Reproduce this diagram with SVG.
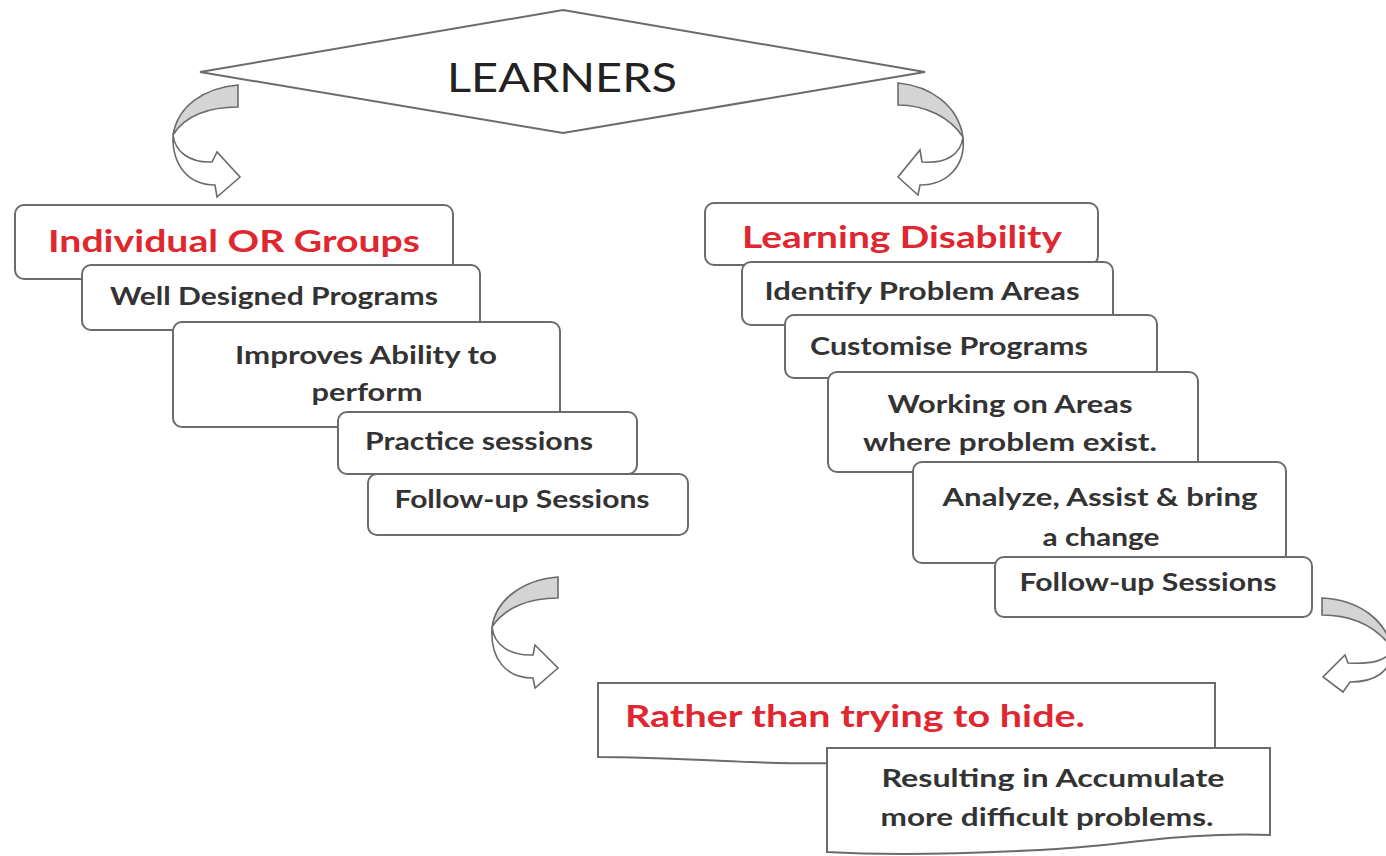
<svg xmlns="http://www.w3.org/2000/svg" width="1386" height="856" viewBox="0 0 1386 856">
<style>
.box{fill:#fff;stroke:#6b6b6b;stroke-width:2}
.band{fill:#d4d4d4;stroke:#6b6b6b;stroke-width:1.6}
.shaft{fill:#fff;stroke:#6b6b6b;stroke-width:1.6}
.t{font-family:Lato,"Open Sans","Liberation Sans",sans-serif;font-weight:bold;fill:#333;font-size:24px;text-anchor:middle}
.r{font-family:Lato,"Open Sans","Liberation Sans",sans-serif;font-weight:bold;fill:#e0262e;font-size:30px;text-anchor:middle}
</style>
<rect width="1386" height="856" fill="#fff"/>
<g id="learners">
<polygon class="box" points="563,10 925,72 563,133 200,72"/>
<text x="562" y="92" style="font-family:Lato,'Liberation Sans',sans-serif;font-size:40px;fill:#222;text-anchor:middle" textLength="230" lengthAdjust="spacingAndGlyphs">LEARNERS</text>
</g>
<g id="connectors">
<path class="band" d="M238,85 C205,88 178,105 173,135 C185,115 210,107 238,107 Z"/>
<path class="shaft" d="M173,135 C175,152 190,163 212,162 L217,152 L240,177 L217,197 L215,185 C188,185 172,165 173,135 Z"/>
<path class="band" d="M898,83 C930,86 958,105 963,137 C950,117 925,105 898,105 Z"/>
<path class="shaft" d="M963,137 C961,155 945,164 922,162 L920,150 L898,177 L918,195 L920,185 C948,185 966,165 963,137 Z"/>
<path class="band" d="M558,577 C522,580 496,600 492,627 C505,607 530,598 558,598 Z"/>
<path class="shaft" d="M492,627 C494,645 510,656 533,655 L535,645 L558,668 L535,688 L533,678 C505,678 490,658 492,627 Z"/>
<path class="band" d="M1322,598 C1360,600 1385,620 1392,648 C1375,625 1350,615 1322,615 Z"/>
<path class="shaft" d="M1392,648 C1388,662 1370,664 1348,663 L1345,655 L1323,677 L1343,692 L1350,682 C1375,682 1392,672 1392,648 Z"/>
</g>
<g id="individual">
<rect class="box" x="15" y="205" width="438" height="74" rx="9"/>
<text class="r" x="234" y="252" textLength="372" lengthAdjust="spacingAndGlyphs">Individual OR Groups</text>
</g>
<g id="well-designed">
<rect class="box" x="82" y="265" width="398" height="65" rx="9"/>
<text class="t" x="274" y="305" textLength="328" lengthAdjust="spacingAndGlyphs">Well Designed  Programs</text>
</g>
<g id="improves">
<rect class="box" x="173" y="322" width="387" height="105" rx="9"/>
<text class="t" x="366" y="364" textLength="262" lengthAdjust="spacingAndGlyphs">Improves Ability to</text>
<text class="t" x="367" y="401" textLength="111" lengthAdjust="spacingAndGlyphs">perform</text>
</g>
<g id="practice">
<rect class="box" x="338" y="412" width="299" height="62" rx="9"/>
<text class="t" x="479" y="450" textLength="228" lengthAdjust="spacingAndGlyphs">Practice sessions</text>
</g>
<g id="followup-left">
<rect class="box" x="368" y="474" width="320" height="61" rx="9"/>
<text class="t" x="522" y="508" textLength="255" lengthAdjust="spacingAndGlyphs">Follow-up Sessions</text>
</g>
<g id="disability">
<rect class="box" x="705" y="203" width="393" height="62" rx="9"/>
<text class="r" x="902" y="248" textLength="320" lengthAdjust="spacingAndGlyphs">Learning Disability</text>
</g>
<g id="identify">
<rect class="box" x="742" y="262" width="371" height="63" rx="9"/>
<text class="t" x="922" y="300" textLength="315" lengthAdjust="spacingAndGlyphs">Identify Problem Areas</text>
</g>
<g id="customise">
<rect class="box" x="785" y="315" width="372" height="63" rx="9"/>
<text class="t" x="949" y="355" textLength="278" lengthAdjust="spacingAndGlyphs">Customise Programs</text>
</g>
<g id="working">
<rect class="box" x="828" y="372" width="370" height="100" rx="9"/>
<text class="t" x="1010" y="413" textLength="245" lengthAdjust="spacingAndGlyphs">Working on Areas</text>
<text class="t" x="1010" y="451" textLength="294" lengthAdjust="spacingAndGlyphs">where problem exist.</text>
</g>
<g id="analyze">
<rect class="box" x="913" y="462" width="373" height="101" rx="9"/>
<text class="t" x="1100" y="506" textLength="315" lengthAdjust="spacingAndGlyphs">Analyze, Assist &amp; bring</text>
<text class="t" x="1101" y="546" textLength="117" lengthAdjust="spacingAndGlyphs">a change</text>
</g>
<g id="followup-right">
<rect class="box" x="995" y="557" width="317" height="60" rx="9"/>
<text class="t" x="1148" y="591" textLength="257" lengthAdjust="spacingAndGlyphs">Follow-up Sessions</text>
</g>
<g id="rather">
<path class="box" d="M598,683 H1215 V752 C1100,752 900,768 750,762 C680,759 640,757 598,757 Z"/>
<text class="r" x="855" y="727" textLength="460" lengthAdjust="spacingAndGlyphs">Rather than trying to hide.</text>
</g>
<g id="resulting">
<path class="box" d="M827,748 H1270 V835 C1180,832 1120,846 1040,850 C960,854 880,855 827,852 Z"/>
<text class="t" x="1053" y="787" textLength="343" lengthAdjust="spacingAndGlyphs">Resulting in Accumulate</text>
<text class="t" x="1047" y="826" textLength="333" lengthAdjust="spacingAndGlyphs">more difficult problems.</text>
</g>
</svg>
